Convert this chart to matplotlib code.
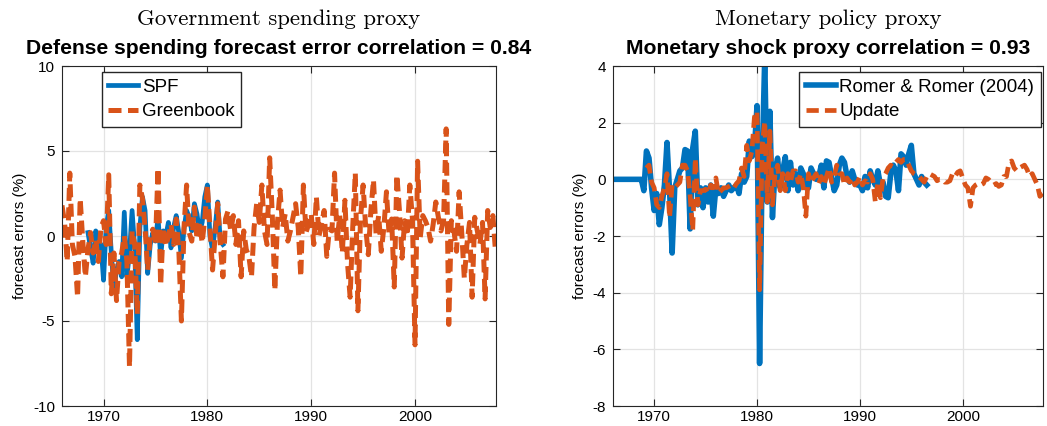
import numpy as np
import matplotlib
matplotlib.use("Agg")
import matplotlib.pyplot as plt

plt.rcParams['font.family'] = ['Liberation Sans', 'DejaVu Sans']
plt.rcParams['axes.unicode_minus'] = False

BLUE = '#0072BD'
ORANGE = '#D95319'

# quarterly data, first quarter of each series given by its start year
# Government spending proxy: Greenbook defense spending forecast errors, 1966Q1-2007Q4
greenbook = [
    1.8, 0.8, -1.5, 3.7,   # 1966
    -0.5, -1.2, -3.6, 2.2,  # 1967
    -0.3, -2.4, -0.8, 0.2,  # 1968
    -1.0, -0.2, -1.5, 0.5,  # 1969
    0.9, -0.5, 3.6, -3.4,   # 1970
    -1.0, -3.8, -1.5, -1.0,  # 1971
    0.0, -1.5, -7.7, 0.3,   # 1972
    -0.5, -4.6, 3.0, 2.2,   # 1973
    0.5, -2.0, 0.0, 0.4,    # 1974
    -0.5, 4.0, -2.9, 0.5,   # 1975
    -0.6, 0.0, 0.7, -0.5,   # 1976
    1.0, -0.8, -5.0, 0.5,   # 1977
    3.0, 0.2, -0.3, 1.7,    # 1978
    -0.2, 0.8, -0.4, 1.0,   # 1979
    3.0, 0.5, -2.0, 0.0,    # 1980
    1.9, -0.5, -2.4, 1.0,   # 1981
    1.5, 0.3, 1.2, -0.5,    # 1982
    0.9, -2.4, 0.3, -0.8,   # 1983
    -1.2, -2.4, 0.5, 1.9,   # 1984
    0.8, 3.0, 0.3, -0.5,    # 1985
    4.6, 1.3, -3.2, 0.8,    # 1986
    2.7, 0.5, 1.3, -0.3,    # 1987
    0.3, 1.1, 1.9, 0.5,     # 1988
    -2.4, 3.0, 0.2, 0.7,    # 1989
    1.3, -0.5, 2.3, 0.0,    # 1990
    0.7, 1.5, -1.2, 0.4,    # 1991
    0.3, 3.7, -0.3, 1.2,    # 1992
    -1.0, 2.1, -1.6, -3.6,  # 1993
    0.5, 3.7, -4.4, 1.0,    # 1994
    3.0, 0.5, -1.1, 1.5,    # 1995
    3.3, 0.1, 1.2, -0.9,    # 1996
    0.5, 2.6, 0.1, 1.0,     # 1997
    -3.0, 3.6, 1.5, -1.3,   # 1998
    0.9, 0.0, 3.0, 1.0,     # 1999
    -6.4, 4.4, -0.1, 1.2,   # 2000
    0.9, 0.5, -0.3, 0.7,    # 2001
    2.0, 1.1, 0.3, 0.9,     # 2002
    6.3, -5.2, 0.9, 0.3,    # 2003
    -0.9, 2.6, 0.2, -2.5,   # 2004
    -0.5, 0.8, -3.6, 1.1,   # 2005
    0.3, -0.5, 0.8, -3.7,   # 2006
    1.5, 0.5, 1.2, -0.9,    # 2007
]
greenbook_start = 1966.0

# SPF defense spending forecast errors, 1968Q3-1981Q3
spf = [
    0.2, -0.7,              # 1968 Q3-Q4
    -1.6, 0.3, -0.3, -0.5,  # 1969
    -2.6, 0.5, 1.5, -1.0,   # 1970
    -3.2, -2.0, -1.5, -2.4,  # 1971
    1.4, -2.4, -1.0, 1.5,   # 1972
    -0.7, -6.1, 0.5, 2.3,   # 1973
    1.5, -2.2, -0.5, 0.2,   # 1974
    -0.3, 1.1, -1.2, 0.3,   # 1975
    0.0, 0.8, -0.7, 0.5,    # 1976
    1.2, 0.2, -1.3, 0.4,    # 1977
    1.5, 1.1, 0.3, 1.9,     # 1978
    1.3, 0.2, 0.8, 2.3,     # 1979
    3.0, 0.0, -0.8, 0.5,    # 1980
    2.0, -0.3, -0.5,        # 1981 Q1-Q3
]
spf_start = 1968.5

# Monetary policy proxy: Romer & Romer (2004) shocks, 1966Q1-1996Q3
romer = [
    0.0, 0.0, 0.0, 0.0,     # 1966
    0.0, 0.0, 0.0, 0.0,     # 1967
    0.0, 0.0, 0.0, 0.0,     # 1968
    -0.4, 1.0, 0.75, -0.3,  # 1969
    -1.1, -0.5, -1.6, -1.0,  # 1970
    -0.2, 1.3, -0.4, -2.6,  # 1971
    -0.3, 0.0, 0.3, 0.4,    # 1972
    1.05, 1.0, -1.75, 1.1,  # 1973
    1.7, -0.9, -0.3, -1.0,  # 1974
    -0.3, -0.8, -0.2, -1.3,  # 1975
    -0.3, -0.5, -0.3, -0.6,  # 1976
    -0.4, -0.2, -0.4, -0.3,  # 1977
    -0.2, -0.5, 0.2, -0.1,  # 1978
    0.1, 1.35, 0.8, 1.1,    # 1979
    2.6, -6.5, 0.6, 4.3,    # 1980
    -0.8, 2.4, -1.35, 0.3,  # 1981
    0.75, -0.3, 0.3, 0.8,   # 1982
    -0.4, 0.6, -0.2, 0.2,   # 1983
    -0.4, 0.4, 0.2, -0.3,   # 1984
    -0.3, 0.4, 0.2, 0.0,    # 1985
    0.1, 0.5, -0.3, 0.65,   # 1986
    0.6, 0.1, -0.4, -0.2,   # 1987
    0.5, 0.75, 0.6, 0.1,    # 1988
    -0.1, 0.3, 0.0, -0.2,   # 1989
    -0.2, -0.4, 0.1, -0.3,  # 1990
    0.3, 0.0, -0.2, 0.3,    # 1991
    -0.2, -0.1, -0.6, -0.65,  # 1992
    0.2, 0.5, 0.3, -0.4,    # 1993
    0.9, 0.8, 0.5, 0.9,     # 1994
    1.2, 0.2, 0.0, -0.2,    # 1995
    0.1, -0.1, -0.2,        # 1996 Q1-Q3
]
romer_start = 1966.0

# Updated monetary shock series, 1969Q2-2007Q4
update = [
    0.4, 0.5, -0.1,         # 1969 Q2-Q4
    -0.3, -0.9, -1.0, -0.6,  # 1970
    -0.3, 0.2, -1.35, -0.2,  # 1971
    -0.3, -0.2, -0.1, 0.5,  # 1972
    0.5, 0.3, -0.6, -1.8,   # 1973
    0.75, -0.9, -0.4, -0.4,  # 1974
    -0.35, -0.5, -0.2, -0.3,  # 1975
    0.05, -0.5, -0.4, -0.3,  # 1976
    -0.3, -0.25, -0.2, -0.3,  # 1977
    -0.15, -0.05, 0.4, 0.1,  # 1978
    1.2, 0.65, 1.0, 2.2,    # 1979
    2.4, -3.9, 1.2, 2.05,   # 1980
    -0.8, 1.7, -0.9, 0.2,   # 1981
    0.5, -0.4, 0.2, -0.4,   # 1982
    0.2, -0.1, 0.3, 0.3,    # 1983
    -0.1, 0.2, -0.3, -1.3,  # 1984
    0.2, -0.1, 0.05, 0.2,   # 1985
    -0.15, 0.1, -0.2, 0.1,  # 1986
    0.4, -0.1, 0.1, 0.5,    # 1987
    0.2, 0.2, -0.2, 0.05,   # 1988
    -0.1, 0.05, -0.2, -0.1,  # 1989
    0.1, -0.2, -0.05, -0.1,  # 1990
    0.2, 0.0, -0.8, -0.1,   # 1991
    -0.65, 0.05, 0.2, 0.4,  # 1992
    0.5, 0.45, 0.6, 0.7,    # 1993
    0.6, 0.7, 0.7, 0.5,     # 1994
    0.3, 0.2, 0.15, 0.1,    # 1995
    0.0, -0.1, 0.1, 0.2,    # 1996
    0.15, 0.1, -0.05, 0.0,  # 1997
    0.0, -0.1, -0.1, -0.05,  # 1998
    0.2, 0.1, 0.25, 0.3,    # 1999
    0.05, -0.2, -0.3, -0.95,  # 2000
    -0.3, -0.2, -0.15, -0.2,  # 2001
    -0.15, 0.05, 0.0, -0.1,  # 2002
    -0.2, -0.15, -0.25, -0.2,  # 2003
    0.1, 0.1, 0.6, 0.65,    # 2004
    0.4, 0.3, 0.4, 0.45,    # 2005
    0.5, 0.35, 0.1, 0.2,    # 2006
    0.0, -0.2, -0.6, -0.5,  # 2007
]
update_start = 1969.25


def qdates(start, vals):
    return start + np.arange(len(vals)) / 4.0


def style_axes(ax, ylim, yticks):
    ax.set_xlim(1966, 2007.8)
    ax.set_ylim(*ylim)
    ax.set_xticks([1970, 1980, 1990, 2000])
    ax.set_yticks(yticks)
    ax.set_yticklabels([str(t) for t in yticks])
    ax.grid(True, color='#e3e3e3', linewidth=0.9)
    ax.set_axisbelow(True)
    ax.tick_params(direction='in', length=5, width=0.8, top=True, right=True,
                   labelsize=11, colors='#262626', labelcolor='black', pad=5)
    ax.tick_params(axis='x', pad=3)
    for s in ax.spines.values():
        s.set_color('#262626')
        s.set_linewidth(0.8)
    ax.set_ylabel('forecast errors (%)', fontsize=11, labelpad=4)


dash = (0, (2.6, 1.3))

fig = plt.figure(figsize=(10.47, 4.26), dpi=100)
ax1 = fig.add_axes([62 / 1047, 20 / 426, 434 / 1047, 340 / 426])
ax2 = fig.add_axes([613 / 1047, 20 / 426, 430 / 1047, 340 / 426])

ax1.plot(qdates(spf_start, spf), spf, color=BLUE, lw=3.4, label='SPF')
ax1.plot(qdates(greenbook_start, greenbook), greenbook, color=ORANGE, lw=3.6,
         linestyle=dash, label='Greenbook')
style_axes(ax1, (-10, 10), [-10, -5, 0, 5, 10])
ax1.legend(loc='upper left', bbox_to_anchor=(0.092, 0.982), fontsize=13.5,
           frameon=True, fancybox=False, edgecolor='#262626', framealpha=1,
           handlelength=1.6, borderpad=0.35, labelspacing=0.4, handletextpad=0.2,
           borderaxespad=0.0)
ax1.set_title('Defense spending forecast error correlation = 0.84',
              fontsize=15.2, fontweight='bold', pad=9)
ax1.text(0.5, 1.11, 'Government spending proxy', transform=ax1.transAxes,
         ha='center', va='bottom', fontsize=16.4, fontname='cmr10')

ax2.plot(qdates(romer_start, romer), romer, color=BLUE, lw=4.0,
         label='Romer & Romer (2004)')
ax2.plot(qdates(update_start, update), update, color=ORANGE, lw=3.4,
         linestyle=dash, label='Update')
style_axes(ax2, (-8, 4), [-8, -6, -4, -2, 0, 2, 4])
ax2.legend(loc='upper right', bbox_to_anchor=(0.995, 0.982), fontsize=13.5,
           frameon=True, fancybox=False, edgecolor='#262626', framealpha=1,
           handlelength=1.6, borderpad=0.35, labelspacing=0.4, handletextpad=0.2,
           borderaxespad=0.0)
ax2.set_title('Monetary shock proxy correlation = 0.93',
              fontsize=15.2, fontweight='bold', pad=9)
ax2.text(0.5, 1.11, 'Monetary policy proxy', transform=ax2.transAxes,
         ha='center', va='bottom', fontsize=16.4, fontname='cmr10')

fig.savefig('out.png', dpi=100)
